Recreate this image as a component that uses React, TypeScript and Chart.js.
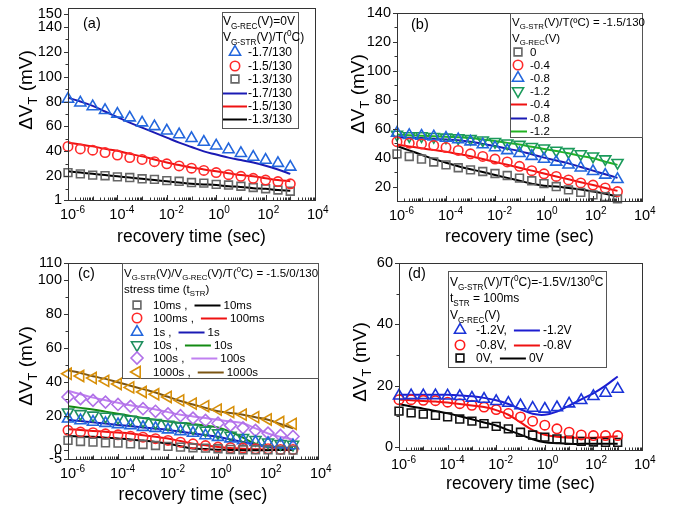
import { useEffect, useRef } from 'react';
import { Chart, registerables } from 'chart.js';

Chart.register(...registerables);

const FONT = '"Liberation Sans", Arial, Helvetica, sans-serif';

// ---------- shared x values: recovery time (s)
const recoveryTime = [1e-6, 3.16e-6, 1e-5, 3.16e-5, 1e-4, 3.16e-4, 1e-3, 3.16e-3, 1e-2, 3.16e-2, 0.1, 0.316, 1, 3.16, 10, 31.6, 100, 316, 1000];
const xLabelExponents = [-6, -4, -2, 0, 2, 4];

// ---------- panel (a)
const aYTicks = [1, 20, 40, 60, 80, 100, 120, 140, 150];
const aYMinor = [10, 30, 50, 70, 90, 110, 130];
const aMeas17 = [82, 79, 76, 73, 70, 67, 63, 60, 56.5, 53.5, 50.5, 47.5, 44.5, 41.5, 38.5, 35.5, 33, 30.5, 27.5];
const aMeas15 = [44, 42, 41, 39, 37, 35, 33.5, 31.7, 30, 28.3, 26.5, 24.7, 23, 21.3, 20, 18.4, 17, 15.8, 14];
const aMeas13 = [23, 22, 21, 20.5, 19.5, 19, 18, 17.5, 16.5, 16, 15, 14.5, 13.5, 13, 12, 11, 10, 9, 8];
const aFit17 = [83, 80, 76.5, 72, 67.5, 63, 59, 55, 51, 47, 43.5, 40, 37.5, 35, 33, 31, 28.5, 25.5, 22];
const aFit15 = [47, 45.5, 44, 42, 40.5, 38, 36, 33.5, 31, 29, 27, 25.5, 24, 22.5, 21, 20, 18.5, 17, 16];
const aFit13 = [24, 23, 22, 21, 20, 19, 18, 17, 16, 15, 14, 13.5, 13, 12, 11.5, 10.5, 10, 9, 8.5];

// ---------- panel (b)
const bYTicks = [20, 40, 60, 80, 100, 120, 140];
const bYMinor = [30, 50, 70, 90, 110, 130];
const bMeas0 = [42.6, 40.8, 39, 37, 35, 33, 31.5, 30.4, 29, 27.6, 25.8, 24, 22, 20, 17.7, 16, 14.2, 13, 11.5];
const bMeas04 = [51, 50, 49.5, 48.4, 47, 45, 42.6, 40.8, 39, 37, 34, 31, 28.8, 27, 24.6, 22.5, 21, 19, 16.5];
const bMeas08 = [57, 55.5, 55, 54.5, 53.5, 52.5, 51, 49, 47, 45, 43, 41, 39, 37, 35, 33, 30.5, 28, 25];
const bMeas12 = [56, 55, 55, 54.5, 54, 53.5, 53, 52, 51, 50, 49, 47.5, 46.5, 45, 44, 42.5, 41, 39, 36.5];
const bFit0 = [48, 45, 42, 39, 36.5, 34, 32, 30, 28, 26, 24, 22, 20.5, 20, 19, 18, 16.5, 15, 13];
const bFit04 = [49, 47.7, 46.5, 45.2, 44, 42.5, 41, 39, 37, 35, 33, 31, 29, 27, 25, 23, 21, 19, 17];
const bFit08 = [54, 53.7, 53.5, 53, 52.5, 52, 51, 49.5, 48, 46.2, 44.5, 42.3, 40, 38, 36, 33.5, 31, 28.5, 26];
const bFit12 = [56, 55.5, 55.2, 54.8, 54.5, 54, 53.5, 52.5, 51.5, 50.2, 49, 47.5, 46, 44.5, 43, 41.2, 39.5, 37.2, 35];

// ---------- panel (c)
const cYTicks = [-5, 0, 20, 40, 60, 80, 100, 110];
const cYMinor = [10, 30, 50, 70, 90];
const cMeas10ms = [5.9, 5.3, 4.9, 4.5, 4.3, 3.9, 3.5, 2.9, 2.4, 2, 1.6, 1.4, 1, 0.6, 0.4, 0.4, 0.4, 0.2, 0.2];
const cMeas100ms = [11.8, 10.8, 10.4, 9.8, 9.2, 8.4, 7.8, 6.9, 5.9, 4.9, 3.9, 2.9, 2, 1.6, 1.4, 1, 1, 0.6, 0.6];
const cMeas1s = [18.6, 17.6, 16.7, 16, 15.3, 14.7, 13.7, 13.1, 12.2, 11.2, 10.2, 8.8, 7.8, 6.9, 5.9, 4.9, 4.3, 3.5, 2.9];
const cMeas10s = [22.5, 21.5, 20.6, 20, 19.2, 18.2, 17.3, 16.3, 15.3, 14.3, 13.1, 11.8, 10.2, 8.8, 7.5, 6.3, 4.9, 3.9, 3.5];
const cMeas100s = [31.4, 30.4, 29.4, 28.4, 27, 25.9, 24.5, 23, 21.5, 20.4, 19, 17.6, 16, 14.7, 13.3, 11.8, 10.2, 8.8, 8.2];
const cMeas1000s = [45, 43.7, 42.5, 40.8, 39, 37, 34.3, 33, 31.4, 29.4, 27.5, 26, 24, 22.5, 21, 19.6, 18.2, 16.7, 15.6];
const cFit10ms = [8.5, 8.2, 8, 7.5, 7, 6.5, 5.8, 5, 4, 2.5, 1.2, 0.8, 0.5, 0.3, 0.2, 0.2, 0.2, 0.3, 0.5];
const cFit100ms = [12.5, 12, 11.5, 11, 10.5, 10, 9, 8, 7, 5.5, 4, 3, 2, 1.5, 1, 0.7, 0.5, 0.5, 0.5];
const cFit1s = [18, 17.3, 16.5, 15.8, 15, 14.3, 13.5, 12.8, 12, 11, 10, 9, 8, 6.5, 5, 3.5, 2, 1.5, 1];
const cFit10s = [26, 25, 24, 22.8, 21.5, 20.3, 19, 18, 17, 16.2, 15.5, 14.5, 13.5, 11, 7.5, 4, 2.5, 1.8, 1.5];
const cFit100s = [35, 33, 31, 29.5, 28, 26.5, 25.5, 24, 22.5, 21, 20, 19, 18, 17, 16, 13, 10, 8, 6.5];
const cFit1000s = [47, 45.5, 43.5, 42, 40, 38, 36, 34, 31.5, 29, 27, 25, 23, 22, 21, 19.5, 18, 15.5, 13];

// ---------- panel (d)
const dYTicks = [0, 20, 40, 60];
const dYMinor = [10, 30, 50];
const dMeas12 = [16.7, 16.8, 16.8, 16.8, 16.7, 16.5, 16, 15.6, 14.9, 14.3, 13.5, 12.7, 12.4, 12.9, 14.1, 15.2, 16.5, 17.6, 18.9];
const dMeas08 = [15.4, 15.4, 15.2, 15.1, 14.6, 14.1, 13.6, 13, 12.2, 10.9, 9.8, 8.4, 7.1, 5.9, 4.8, 3.9, 3.7, 3.7, 3.7];
const dMeas0 = [11.7, 11.1, 10.7, 10.3, 9.8, 9.1, 8.4, 7.6, 6.7, 5.9, 4.8, 3.9, 3.2, 2.6, 2.2, 1.8, 1.6, 1.5, 1.5];
const dFit12 = [17, 17, 17, 17, 17, 16.8, 16.5, 16, 15.2, 14, 12.3, 10.8, 10.5, 11.5, 13.5, 15.5, 17.5, 20, 23];
const dFit08 = [15.5, 15.2, 15, 14.8, 14.5, 14, 13.5, 13, 12, 10.5, 8, 5.5, 4, 3.3, 3, 3, 3, 3.2, 3.5];
const dFit0 = [14, 13.2, 12.5, 11.7, 11, 10, 9, 8, 7, 5.5, 4, 2.5, 1.5, 1.2, 1, 1, 1, 1, 1];

// ---------- types & helpers
type Seg = [string, string?];
const N = (t: string): Seg => [t, 'n'];
const S = (t: string): Seg => [t, 'sub'];
const P = (t: string): Seg => [t, 'sup'];

type Series = { label: string; values: number[]; kind: 'pt' | 'ln'; color: string; style?: string; rot?: number; r?: number };
type Row = { y: number; text?: Seg[]; textX?: number; mk?: number; mkX?: number; ln?: number; lnX?: number; lnLen?: number; text2?: string };
type Legend = { box: [number, number, number, number]; size: number; rows: Row[] };
type PanelCfg = {
  left: number; top: number; w: number; h: number;
  area: { l: number; t: number; r: number; b: number };
  yMin: number; yMax: number; yTicks: number[]; yMinor: number[];
  label: string; labelX: number; labelY: number;
  yTitleX: number; yTitleY: number; xTitleDy: number;
  series: Series[]; legend: Legend;
};

function richWidth(ctx: CanvasRenderingContext2D, segs: Seg[], size: number) {
  let w = 0;
  for (const [t, m] of segs) {
    const fs = m === 'sub' || m === 'sup' ? size * 0.68 : size;
    ctx.font = `${fs}px ${FONT}`;
    w += ctx.measureText(t).width;
  }
  return w;
}

function drawRich(ctx: CanvasRenderingContext2D, segs: Seg[], x: number, y: number, size: number) {
  let cx = x;
  ctx.textAlign = 'left';
  ctx.textBaseline = 'alphabetic';
  for (const [t, m] of segs) {
    const small = m === 'sub' || m === 'sup';
    const fs = small ? size * 0.68 : size;
    ctx.font = `${fs}px ${FONT}`;
    const dy = m === 'sub' ? size * 0.28 : m === 'sup' ? -size * 0.42 : 0;
    ctx.fillText(t, cx, y + dy);
    cx += ctx.measureText(t).width;
  }
  return cx - x;
}

function drawMarker(ctx: CanvasRenderingContext2D, s: Series, x: number, y: number) {
  const r = s.r || 4;
  const rad = ((s.rot || 0) * Math.PI) / 180;
  ctx.save();
  ctx.strokeStyle = s.color;
  ctx.lineWidth = 1.6;
  ctx.beginPath();
  if (s.style === 'triangle') {
    for (let i = 0; i < 3; i++) {
      const a = rad + (i * 2 * Math.PI) / 3;
      const px = x + Math.sin(a) * r;
      const py = y - Math.cos(a) * r;
      if (i === 0) ctx.moveTo(px, py); else ctx.lineTo(px, py);
    }
    ctx.closePath();
  } else if (s.style === 'rect') {
    const h = r * Math.SQRT1_2;
    ctx.rect(x - h, y - h, 2 * h, 2 * h);
  } else if (s.style === 'rectRot') {
    ctx.moveTo(x - r, y);
    ctx.lineTo(x, y - r);
    ctx.lineTo(x + r, y);
    ctx.lineTo(x, y + r);
    ctx.closePath();
  } else {
    ctx.arc(x, y, r, 0, Math.PI * 2);
  }
  ctx.stroke();
  ctx.restore();
}

function makeDecor(cfg: PanelCfg) {
  return {
    id: 'decor' + cfg.label,
    afterDraw(chart: any) {
      const ctx: CanvasRenderingContext2D = chart.ctx;
      const { left, top, right, bottom } = chart.chartArea;
      const xs = chart.scales.x;
      const ys = chart.scales.y;
      ctx.save();
      ctx.strokeStyle = '#333';
      ctx.lineWidth = 1;
      ctx.strokeRect(Math.round(left) + 0.5, Math.round(top) + 0.5, Math.round(right - left), Math.round(bottom - top));

      // y ticks (outward)
      ctx.beginPath();
      for (const v of cfg.yTicks) {
        const py = Math.round(ys.getPixelForValue(v)) + 0.5;
        ctx.moveTo(left, py);
        ctx.lineTo(left - 4, py);
      }
      for (const v of cfg.yMinor) {
        const py = Math.round(ys.getPixelForValue(v)) + 0.5;
        ctx.moveTo(left, py);
        ctx.lineTo(left - 2.5, py);
      }
      // x ticks (inward, bottom)
      for (let e = -6; e <= 4; e++) {
        const px = Math.round(xs.getPixelForValue(Math.pow(10, e))) + 0.5;
        const len = e % 2 === 0 ? 5 : 3.5;
        ctx.moveTo(px, bottom);
        ctx.lineTo(px, bottom - len);
        if (e < 4) {
          for (let m = 2; m <= 9; m++) {
            const pm = Math.round(xs.getPixelForValue(m * Math.pow(10, e))) + 0.5;
            ctx.moveTo(pm, bottom);
            ctx.lineTo(pm, bottom - 2.5);
          }
        }
      }
      ctx.stroke();

      // x tick labels
      ctx.fillStyle = '#000';
      ctx.textBaseline = 'alphabetic';
      ctx.textAlign = 'left';
      for (const e of xLabelExponents) {
        const px = xs.getPixelForValue(Math.pow(10, e));
        ctx.font = `14.5px ${FONT}`;
        const w = ctx.measureText('10').width;
        const by = bottom + 19;
        ctx.fillText('10', px - w / 2, by);
        ctx.font = `10px ${FONT}`;
        ctx.fillText(String(e), px + w / 2, by - 6.5);
      }

      // x title
      ctx.font = `17.5px ${FONT}`;
      ctx.textAlign = 'center';
      ctx.textBaseline = 'middle';
      ctx.fillText('recovery time (sec)', (left + right) / 2, bottom + cfg.xTitleDy);

      // y title
      const ySegs: Seg[] = [N('\u0394V'), S('T'), N(' (mV)')];
      const ysz = 19;
      const tw = richWidth(ctx, ySegs, ysz);
      ctx.save();
      ctx.translate(cfg.yTitleX, cfg.yTitleY);
      ctx.rotate(-Math.PI / 2);
      drawRich(ctx, ySegs, -tw / 2, ysz * 0.36, ysz);
      ctx.restore();

      // panel label
      ctx.font = `14.5px ${FONT}`;
      ctx.textAlign = 'left';
      ctx.textBaseline = 'middle';
      ctx.fillText(cfg.label, cfg.labelX, cfg.labelY);

      // legend
      const lg = cfg.legend;
      const [bx1, by1, bx2, by2] = lg.box;
      ctx.fillStyle = '#fff';
      ctx.fillRect(bx1, by1, bx2 - bx1, by2 - by1);
      ctx.strokeStyle = '#555';
      ctx.lineWidth = 1;
      ctx.strokeRect(bx1 + 0.5, by1 + 0.5, bx2 - bx1, by2 - by1);
      ctx.fillStyle = '#000';
      for (const row of lg.rows) {
        const base = row.y + lg.size * 0.36;
        let cursor = row.textX || bx1 + 2;
        if (row.mk !== undefined) drawMarker(ctx, cfg.series[row.mk], row.mkX || 0, row.y);
        const drawLine = (x1: number, s: Series) => {
          ctx.save();
          ctx.strokeStyle = s.color;
          ctx.lineWidth = 2;
          ctx.beginPath();
          ctx.moveTo(x1, row.y + 0.5);
          ctx.lineTo(x1 + (row.lnLen || 24), row.y + 0.5);
          ctx.stroke();
          ctx.restore();
        };
        if (row.ln !== undefined && row.lnX !== undefined) drawLine(row.lnX, cfg.series[row.ln]);
        if (row.text) {
          ctx.fillStyle = '#000';
          cursor += drawRich(ctx, row.text, cursor, base, lg.size);
        }
        if (row.ln !== undefined && row.lnX === undefined) {
          const x1 = cursor + 7;
          drawLine(x1, cfg.series[row.ln]);
          cursor = x1 + (row.lnLen || 24) + 3;
        }
        if (row.text2) {
          ctx.fillStyle = '#000';
          drawRich(ctx, [N(row.text2)], cursor, base, lg.size);
        }
      }
      ctx.restore();
    },
  };
}

// ---------- panel definitions
const BLUE_PT = '#2266dd';
const BLUE_LN = '#1a1ab4';
const RED_PT = '#ff2a2a';
const RED_LN = '#ee1111';
const GRAY_PT = '#666666';
const TRI_R = 6.4;
const CIR_R = 4.7;
const SQ_R = 5.5;

const panelA: PanelCfg = {
  left: 0, top: 0, w: 339, h: 250,
  area: { l: 68, t: 3, r: 315, b: 200 },
  yMin: 1, yMax: 155, yTicks: aYTicks, yMinor: aYMinor,
  label: '(a)', labelX: 83, labelY: 24, yTitleX: 25, yTitleY: 90, xTitleDy: 37,
  series: [
    { label: '-1.7/130', values: aMeas17, kind: 'pt', color: BLUE_PT, style: 'triangle', r: TRI_R },
    { label: '-1.5/130', values: aMeas15, kind: 'pt', color: RED_PT, style: 'circle', r: CIR_R },
    { label: '-1.3/130', values: aMeas13, kind: 'pt', color: GRAY_PT, style: 'rect', r: SQ_R },
    { label: '-1.7/130 fit', values: aFit17, kind: 'ln', color: BLUE_LN },
    { label: '-1.5/130 fit', values: aFit15, kind: 'ln', color: RED_LN },
    { label: '-1.3/130 fit', values: aFit13, kind: 'ln', color: '#000' },
  ],
  legend: {
    box: [222, 12, 298, 128], size: 12,
    rows: [
      { y: 21, text: [N('V'), S('G-REC'), N('(V)=0V')], textX: 223 },
      { y: 37, text: [N('V'), S('G-STR'), N('(V)/T('), P('0'), N('C)')], textX: 223 },
      { y: 52, mk: 0, mkX: 235, text: [N('-1.7/130')], textX: 248 },
      { y: 66, mk: 1, mkX: 235, text: [N('-1.5/130')], textX: 248 },
      { y: 79, mk: 2, mkX: 235, text: [N('-1.3/130')], textX: 248 },
      { y: 93, ln: 3, lnX: 223, lnLen: 24, text: [N('-1.7/130')], textX: 248 },
      { y: 106, ln: 4, lnX: 223, lnLen: 24, text: [N('-1.5/130')], textX: 248 },
      { y: 119, ln: 5, lnX: 223, lnLen: 24, text: [N('-1.3/130')], textX: 248 },
    ],
  },
};

const GREEN_PT = '#1a9a5a';
const panelB: PanelCfg = {
  left: 339, top: 0, w: 339, h: 250,
  area: { l: 58, t: 13, r: 303, b: 201 },
  yMin: 10, yMax: 140, yTicks: bYTicks, yMinor: bYMinor,
  label: '(b)', labelX: 72, labelY: 25, yTitleX: 18, yTitleY: 94, xTitleDy: 36,
  series: [
    { label: '0', values: bMeas0, kind: 'pt', color: GRAY_PT, style: 'rect', r: SQ_R },
    { label: '-0.4', values: bMeas04, kind: 'pt', color: RED_PT, style: 'circle', r: CIR_R },
    { label: '-0.8', values: bMeas08, kind: 'pt', color: BLUE_PT, style: 'triangle', r: TRI_R },
    { label: '-1.2', values: bMeas12, kind: 'pt', color: GREEN_PT, style: 'triangle', rot: 180, r: TRI_R },
    { label: '-0.4 fit', values: bFit04, kind: 'ln', color: RED_LN },
    { label: '-0.8 fit', values: bFit08, kind: 'ln', color: BLUE_LN },
    { label: '-1.2 fit', values: bFit12, kind: 'ln', color: '#22b322' },
    { label: '0 fit', values: bFit0, kind: 'ln', color: '#000' },
  ],
  legend: {
    box: [171, 13, 303, 137], size: 11.5,
    rows: [
      { y: 22, text: [N('V'), S('G-STR'), N('(V)/T(\u00baC) = -1.5/130')], textX: 173 },
      { y: 38, text: [N('V'), S('G-REC'), N('(V)')], textX: 173 },
      { y: 52, mk: 0, mkX: 179, text: [N('0')], textX: 191 },
      { y: 65, mk: 1, mkX: 179, text: [N('-0.4')], textX: 191 },
      { y: 78, mk: 2, mkX: 179, text: [N('-0.8')], textX: 191 },
      { y: 91, mk: 3, mkX: 179, text: [N('-1.2')], textX: 191 },
      { y: 104, ln: 4, lnX: 172, lnLen: 16, text: [N('-0.4')], textX: 191 },
      { y: 118, ln: 5, lnX: 172, lnLen: 16, text: [N('-0.8')], textX: 191 },
      { y: 131, ln: 6, lnX: 172, lnLen: 16, text: [N('-1.2')], textX: 191 },
    ],
  },
};

const panelC: PanelCfg = {
  left: 0, top: 250, w: 339, h: 257,
  area: { l: 68, t: 13, r: 318, b: 209 },
  yMin: -5, yMax: 110, yTicks: cYTicks, yMinor: cYMinor,
  label: '(c)', labelX: 78, labelY: 24, yTitleX: 25, yTitleY: 116, xTitleDy: 36,
  series: [
    { label: '10ms', values: cMeas10ms, kind: 'pt', color: GRAY_PT, style: 'rect', r: SQ_R },
    { label: '100ms', values: cMeas100ms, kind: 'pt', color: RED_PT, style: 'circle', r: CIR_R },
    { label: '1s', values: cMeas1s, kind: 'pt', color: BLUE_PT, style: 'triangle', r: TRI_R },
    { label: '10s', values: cMeas10s, kind: 'pt', color: '#1f8f5f', style: 'triangle', rot: 180, r: TRI_R },
    { label: '100s', values: cMeas100s, kind: 'pt', color: '#b070e8', style: 'rectRot', r: 6 },
    { label: '1000s', values: cMeas1000s, kind: 'pt', color: '#d8900a', style: 'triangle', rot: -90, r: TRI_R },
    { label: '10ms fit', values: cFit10ms, kind: 'ln', color: '#000' },
    { label: '100ms fit', values: cFit100ms, kind: 'ln', color: RED_LN },
    { label: '1s fit', values: cFit1s, kind: 'ln', color: BLUE_LN },
    { label: '10s fit', values: cFit10s, kind: 'ln', color: '#138a13' },
    { label: '100s fit', values: cFit100s, kind: 'ln', color: '#c080f0' },
    { label: '1000s fit', values: cFit1000s, kind: 'ln', color: '#7b5513' },
  ],
  legend: {
    box: [122, 13, 318, 128], size: 11.5,
    rows: [
      { y: 23, text: [N('V'), S('G-STR'), N('(V)/V'), S('G-REC'), N('(V)/T('), P('0'), N('C) = -1.5/0/130')], textX: 124 },
      { y: 39, text: [N('stress time (t'), S('STR'), N(')')], textX: 124 },
      { y: 55, mk: 0, mkX: 137, text: [N('10ms ,')], textX: 153, ln: 6, lnLen: 26, text2: '10ms' },
      { y: 68, mk: 1, mkX: 137, text: [N('100ms ,')], textX: 153, ln: 7, lnLen: 26, text2: '100ms' },
      { y: 82, mk: 2, mkX: 137, text: [N('1s ,')], textX: 153, ln: 8, lnLen: 26, text2: '1s' },
      { y: 95, mk: 3, mkX: 137, text: [N('10s ,')], textX: 153, ln: 9, lnLen: 26, text2: '10s' },
      { y: 108, mk: 4, mkX: 137, text: [N('100s ,')], textX: 153, ln: 10, lnLen: 26, text2: '100s' },
      { y: 122, mk: 5, mkX: 137, text: [N('1000s ,')], textX: 153, ln: 11, lnLen: 26, text2: '1000s' },
    ],
  },
};

const panelD: PanelCfg = {
  left: 339, top: 250, w: 339, h: 257,
  area: { l: 60, t: 13, r: 303, b: 200 },
  yMin: -1, yMax: 60, yTicks: dYTicks, yMinor: dYMinor,
  label: '(d)', labelX: 69, labelY: 24, yTitleX: 20, yTitleY: 112, xTitleDy: 34,
  series: [
    { label: '-1.2V', values: dMeas12, kind: 'pt', color: '#1a33d8', style: 'triangle', r: TRI_R },
    { label: '-0.8V', values: dMeas08, kind: 'pt', color: '#ff1a1a', style: 'circle', r: CIR_R },
    { label: '0V', values: dMeas0, kind: 'pt', color: '#111111', style: 'rect', r: SQ_R },
    { label: '-1.2V fit', values: dFit12, kind: 'ln', color: '#1c1cd0' },
    { label: '-0.8V fit', values: dFit08, kind: 'ln', color: RED_LN },
    { label: '0V fit', values: dFit0, kind: 'ln', color: '#000' },
  ],
  legend: {
    box: [109, 21, 267, 117], size: 12,
    rows: [
      { y: 32, text: [N('V'), S('G-STR'), N('(V)/T('), P('0'), N('C)=-1.5V/130'), P('0'), N('C')], textX: 111 },
      { y: 48, text: [N('t'), S('STR'), N(' = 100ms')], textX: 111 },
      { y: 65, text: [N('V'), S('G-REC'), N('(V)')], textX: 111 },
      { y: 80, mk: 0, mkX: 121, text: [N('-1.2V,')], textX: 137, ln: 3, lnLen: 26, text2: '-1.2V' },
      { y: 95, mk: 1, mkX: 121, text: [N('-0.8V,')], textX: 137, ln: 4, lnLen: 26, text2: '-0.8V' },
      { y: 108, mk: 2, mkX: 121, text: [N('0V,')], textX: 137, ln: 5, lnLen: 26, text2: '0V' },
    ],
  },
};

const panels = [panelA, panelB, panelC, panelD];

function buildConfig(cfg: PanelCfg): any {
  const datasets = cfg.series.map((s) => ({
    label: s.label,
    data: recoveryTime.map((t, i) => ({ x: t, y: s.values[i] })),
    showLine: s.kind === 'ln',
    borderColor: s.color,
    backgroundColor: 'rgba(0,0,0,0)',
    borderWidth: s.kind === 'ln' ? 2 : 0,
    pointRadius: s.kind === 'pt' ? s.r : 0,
    pointHoverRadius: 0,
    pointStyle: s.style || 'circle',
    pointRotation: s.rot || 0,
    pointBorderWidth: 1.6,
    pointBorderColor: s.color,
    pointBackgroundColor: 'rgba(0,0,0,0)',
    tension: 0.4,
    clip: false,
    order: s.kind === 'pt' ? 0 : 1,
  }));
  return {
    type: 'line',
    data: { datasets },
    options: {
      animation: false,
      responsive: false,
      maintainAspectRatio: false,
      events: [],
      layout: { padding: { left: 0, top: cfg.area.t, right: cfg.w - cfg.area.r, bottom: 0 } },
      plugins: { legend: { display: false }, tooltip: { enabled: false }, title: { display: false } },
      scales: {
        x: {
          type: 'logarithmic',
          min: 1e-6,
          max: 1e4,
          grid: { display: false, drawTicks: false },
          border: { display: false },
          ticks: { display: false },
          afterFit: (s: any) => {
            s.height = cfg.h - cfg.area.b;
            s.paddingLeft = 0;
            s.paddingRight = 0;
          },
        },
        y: {
          type: 'linear',
          min: cfg.yMin,
          max: cfg.yMax,
          grid: { display: false, drawTicks: false },
          border: { display: false },
          afterBuildTicks: (s: any) => {
            s.ticks = cfg.yTicks.map((v) => ({ value: v }));
          },
          ticks: { font: { family: FONT, size: 14.5 }, color: '#000', padding: 6, autoSkip: false },
          afterFit: (s: any) => {
            s.width = cfg.area.l;
            s.paddingTop = 0;
            s.paddingBottom = 0;
          },
        },
      },
    },
    plugins: [makeDecor(cfg)],
  };
}

function Panel({ cfg }: { cfg: PanelCfg }) {
  const ref = useRef<HTMLCanvasElement>(null);
  useEffect(() => {
    const canvas = ref.current;
    if (!canvas) return;
    const chart = new Chart(canvas, buildConfig(cfg));
    return () => chart.destroy();
  }, [cfg]);
  return (
    <canvas
      ref={ref}
      width={cfg.w}
      height={cfg.h}
      style={{ position: 'absolute', left: cfg.left, top: cfg.top, width: cfg.w, height: cfg.h, display: 'block' }}
    />
  );
}

export default function App() {
  return (
    <div style={{ position: 'fixed', left: 0, top: 0, width: 678, height: 507, background: '#fff', overflow: 'hidden' }}>
      {panels.map((p) => (
        <Panel key={p.label} cfg={p} />
      ))}
    </div>
  );
}
